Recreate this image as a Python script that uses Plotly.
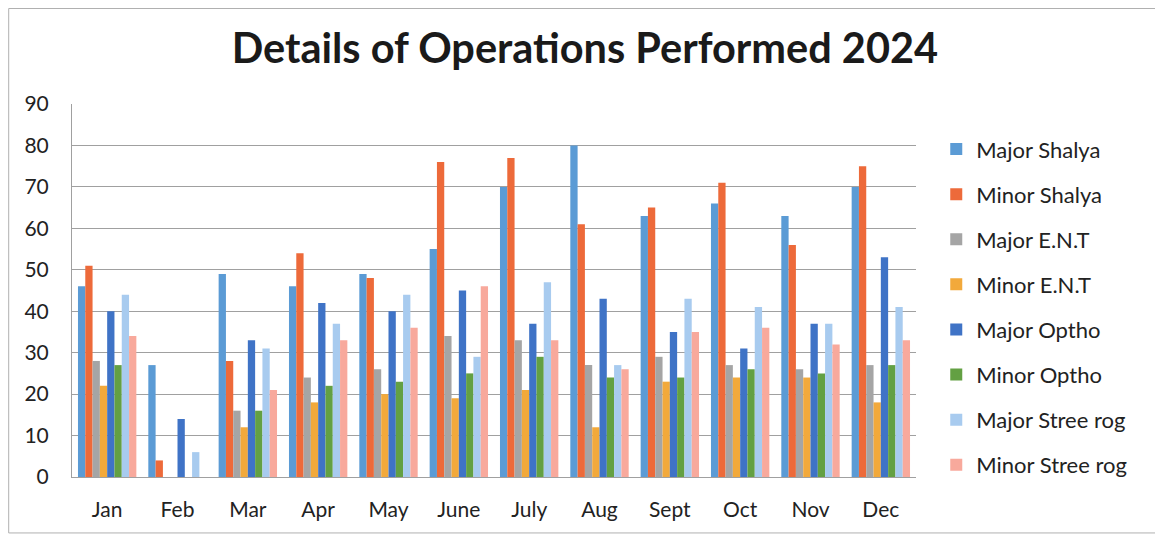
import plotly.graph_objects as go

months = ["Jan", "Feb", "Mar", "Apr", "May", "June", "July", "Aug", "Sept", "Oct", "Nov", "Dec"]

major_shalya = [46, 27, 49, 46, 49, 55, 70, 80, 63, 66, 63, 70]
minor_shalya = [51, 4, 28, 54, 48, 76, 77, 61, 65, 71, 56, 75]
major_ent = [28, 0, 16, 24, 26, 34, 33, 27, 29, 27, 26, 27]
minor_ent = [22, 0, 12, 18, 20, 19, 21, 12, 23, 24, 24, 18]
major_optho = [40, 14, 33, 42, 40, 45, 37, 43, 35, 31, 37, 53]
minor_optho = [27, 0, 16, 22, 23, 25, 29, 24, 24, 26, 25, 27]
major_stree = [44, 6, 31, 37, 44, 29, 47, 27, 43, 41, 37, 41]
minor_stree = [34, 0, 21, 33, 36, 46, 33, 26, 35, 36, 32, 33]

series = [
    ("Major Shalya", major_shalya, "#5B9BD5"),
    ("Minor Shalya", minor_shalya, "#ED6A3A"),
    ("Major E.N.T", major_ent, "#A5A5A5"),
    ("Minor E.N.T", minor_ent, "#F2A93B"),
    ("Major Optho", major_optho, "#3F73C6"),
    ("Minor Optho", minor_optho, "#63A043"),
    ("Major Stree rog", major_stree, "#A8CBEF"),
    ("Minor Stree rog", minor_stree, "#F8A99C"),
]

fig = go.Figure()
for i, (name, vals, color) in enumerate(series):
    fig.add_trace(go.Bar(x=months, y=vals, name=name, marker_color=color,
                         marker_line_width=0, legendgroup=str(i)))

# plot area spans roughly x 72..916, y 104..477 on the page (body has 8px margin)
fig.update_layout(
    width=1147, height=526,
    margin=dict(l=64, r=239, t=96, b=57),
    paper_bgcolor="white", plot_bgcolor="white",
    font=dict(family="Lato, Open Sans, sans-serif", color="#222222", size=22),
    title=dict(text="<b>Details of Operations Performed 2024</b>", x=0.503, xanchor="center",
               y=0.924, yanchor="middle", font=dict(size=41.5, color="#1a1a1a")),
    barmode="group", bargap=0.17, bargroupgap=0,
    legend=dict(x=1.024, y=0.935, xanchor="left", yanchor="top",
                font=dict(size=22), tracegroupgap=13.5, traceorder="grouped",
                itemwidth=30),
    showlegend=True,
)
fig.update_yaxes(range=[0, 90], dtick=10, showgrid=True, gridcolor="#a0a0a0", gridwidth=1,
                 showline=True, linecolor="#a0a0a0", ticks="", zeroline=False,
                 ticklabelstandoff=18, tickfont=dict(size=21))
fig.update_xaxes(showline=True, linecolor="#a0a0a0", ticks="", tickfont=dict(size=21),
                 ticklabelstandoff=14)
fig.add_shape(type="rect", xref="paper", yref="paper", x0=-0.075, y0=-0.150, x1=1.2855, y1=1.256,
              line=dict(color="#b0b0b0", width=1))

fig.write_html("out.html")
